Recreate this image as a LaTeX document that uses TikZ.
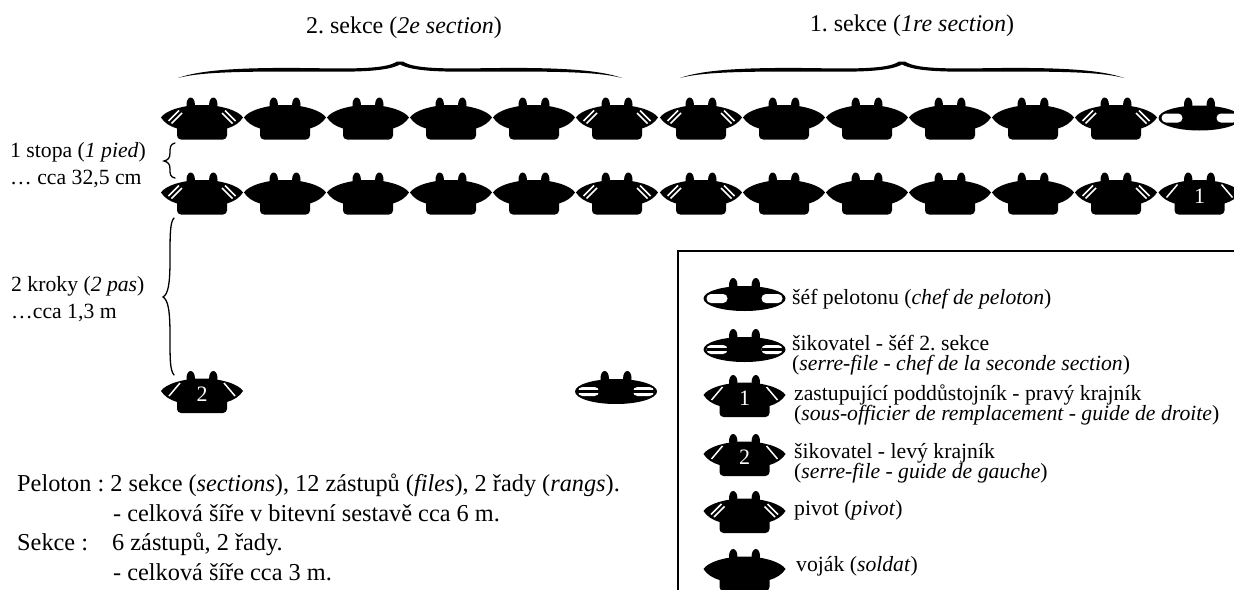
\documentclass[tikz,border=0pt]{standalone}
\usepackage{fontspec}
\setmainfont{Liberation Serif}
\frenchspacing
\tikzset{
	popis/.style={inner sep=0pt,anchor=base west,font=\fontsize{21.7}{18}\selectfont,align=left},
	shrnuti/.style={inner sep=0pt,anchor=base west,font=\fontsize{24.3}{24}\selectfont},
	nadpis/.style={inner sep=0pt,anchor=base,font=\fontsize{24}{24}\selectfont},
	cislo/.style={inner sep=0pt,white,font=\fontsize{22}{22}\selectfont},
	svorka/.style={line width=1.3pt,line cap=round},
	nasivka/.style={white,line width=1.5pt},
	pics/trup/.style={code={
		\fill (-11.3,-13) ellipse (4.2 and 7);
		\fill (11.3,-13) ellipse (4.2 and 7);
		\fill (-41,0) .. controls (-37,-6.5) and (-20,-12.5) .. (0,-12.5) .. controls (20,-12.5) and (37,-6.5) .. (41,0)
			.. controls (38,5) and (32,9) .. (25,11) [rounded corners=4pt] -- (25,22) -- (-25,22) [sharp corners]
			-- (-25,11) .. controls (-32,9) and (-38,5) .. (-41,0) -- cycle;
	}},
	pics/hlava/.style={code={
		\fill (-11.3,-13) ellipse (4.2 and 7);
		\fill (11.3,-13) ellipse (4.2 and 7);
		\fill (0,0.5) ellipse (41 and 12.5);
		\fill[white,rounded corners=4.4pt] (-38,-4) rectangle (-17,5);
		\fill[white,rounded corners=4.4pt] (17,-4) rectangle (38,5);
	}},
	pics/vojak/.style={code={\pic {trup};}},
	pics/pivot/.style={code={
		\pic {trup};
		\draw[nasivka] (-33.5,3.5) -- (-23,-7);
		\draw[nasivka] (-30.5,6) -- (-20,-4.5);
		\draw[nasivka] (33.5,3.5) -- (23,-7);
		\draw[nasivka] (30.5,6) -- (20,-4.5);
	}},
	pics/krajnik/.style={code={
		\pic {trup};
		\draw[nasivka] (-33,5) -- (-22,-8);
		\draw[nasivka] (33,5) -- (22,-8);
		\node (cislo) [cislo] at (0,3.5) {#1};
	}},
	pics/sef/.style={code={\pic {hlava};}},
	pics/serrefile/.style={code={
		\pic {hlava};
		\draw[line width=2.4pt] (-38,0.5) -- (-17,0.5);
		\draw[line width=2.4pt] (17,0.5) -- (38,0.5);
	}},
	pics/zavorka/.style={code={
		\fill (178,78) .. controls (200,70) and (240,67.5) .. (300,68) .. controls (345,68.5) and (385,70) .. (397,61.5)
			-- (403,61.5) .. controls (415,70) and (455,68.5) .. (500,68) .. controls (560,67.5) and (600,70) .. (622,78)
			.. controls (600,72) and (560,71.5) .. (500,71.5) .. controls (450,72) and (415,72.5) .. (400,64.5)
			.. controls (385,72.5) and (350,72) .. (300,71.5) .. controls (240,71.5) and (200,72) .. (178,78) -- cycle;
	}},
}
\begin{document}
\begin{tikzpicture}[x=1pt,y=-1pt]
\useasboundingbox (0,0) rectangle (1234,589);
\node (sekcedva) [nadpis] at (404,33) {2. sekce (\textit{2e section})};
\node (sekcejedna) [nadpis] at (912,31) {1. sekce (\textit{1re section})};
\pic at (0,0) {zavorka};
\pic at (502,0) {zavorka};
% prvni rada
\pic at (202,117.5) {pivot};
\pic at (285,117.5) {vojak};
\pic at (368,117.5) {vojak};
\pic at (451,117.5) {vojak};
\pic at (534,117.5) {vojak};
\pic at (617,117.5) {pivot};
\pic at (701,117.5) {pivot};
\pic at (784,117.5) {vojak};
\pic at (867,117.5) {vojak};
\pic at (950,117.5) {vojak};
\pic at (1033,117.5) {vojak};
\pic at (1116,117.5) {pivot};
\pic at (1199.5,117.5) {sef};
% druha rada
\pic at (202,192.5) {pivot};
\pic at (285,192.5) {vojak};
\pic at (368,192.5) {vojak};
\pic at (451,192.5) {vojak};
\pic at (534,192.5) {vojak};
\pic at (617,192.5) {pivot};
\pic at (701,192.5) {pivot};
\pic at (784,192.5) {vojak};
\pic at (867,192.5) {vojak};
\pic at (950,192.5) {vojak};
\pic at (1033,192.5) {vojak};
\pic at (1116,192.5) {pivot};
\pic at (1199.5,192.5) {krajnik=1};
% zaverecna rada
\pic at (202,391) {krajnik=2};
\pic at (616,391) {serrefile};
% vzdalenosti
\draw [svorka] (175,143) .. controls (170,144) and (170,148) .. (170,153) .. controls (170,158) and (168,160) .. (164,161)
	.. controls (168,162) and (170,164) .. (170,169) .. controls (170,174) and (170,177) .. (175,178);
\draw [svorka] (174,218) .. controls (170,222) and (170,235) .. (170,260) .. controls (170,285) and (168,294) .. (163,297)
	.. controls (168,300) and (170,310) .. (170,335) .. controls (170,360) and (170,370) .. (174,375);
\node (stopa) [popis] at (10,157) {1 stopa (\textit{1 pied})};
\node (stopacm) [popis] at (10,184) {\dots\ cca 32,5 cm};
\node (kroky) [popis] at (11,291) {2 kroky (\textit{2 pas})};
\node (krokym) [popis] at (11,318) {\dots cca 1,3 m};
% legenda
\draw [line width=2pt] (1240,251) -- (677.5,251) -- (677.5,595);
\pic at (744.5,298) {sef};
\pic at (744.5,349) {serrefile};
\pic at (744.5,395) {krajnik=1};
\pic at (744.5,454) {krajnik=2};
\pic at (744.5,511) {pivot};
\pic at (744.5,569) {vojak};
\node (legsef) [popis] at (792,304) {šéf pelotonu (\textit{chef de peloton})};
\node (legserre) [popis] at (792,350) {šikovatel - šéf 2. sekce};
\node (legserrefr) [popis] at (792,370) {(\textit{serre-file - chef de la seconde section})};
\node (legprvni) [popis] at (794,400) {zastupující poddůstojník - pravý krajník};
\node (legprvnifr) [popis] at (794,420) {(\textit{sous-officier de remplacement - guide de droite})};
\node (legdruhy) [popis] at (794,458) {šikovatel - levý krajník};
\node (legdruhyfr) [popis] at (794,478) {(\textit{serre-file - guide de gauche})};
\node (legpivot) [popis] at (794,515) {pivot (\textit{pivot})};
\node (legvojak) [popis] at (796,571) {voják (\textit{soldat})};
% shrnuti
\node (peloton) [shrnuti] at (17,491) {Peloton : 2 sekce (\textit{sections}), 12 zástupů (\textit{files}), 2 řady (\textit{rangs}).};
\node (pelotonsire) [shrnuti] at (113,521) {- celková šíře v bitevní sestavě cca 6 m.};
\node (sekce) [shrnuti] at (17,550) {Sekce :};
\node (sekcezastupy) [shrnuti] at (112,550) {6 zástupů, 2 řady.};
\node (sekcesire) [shrnuti] at (113,580) {- celková šíře cca 3 m.};
\end{tikzpicture}
\end{document}
